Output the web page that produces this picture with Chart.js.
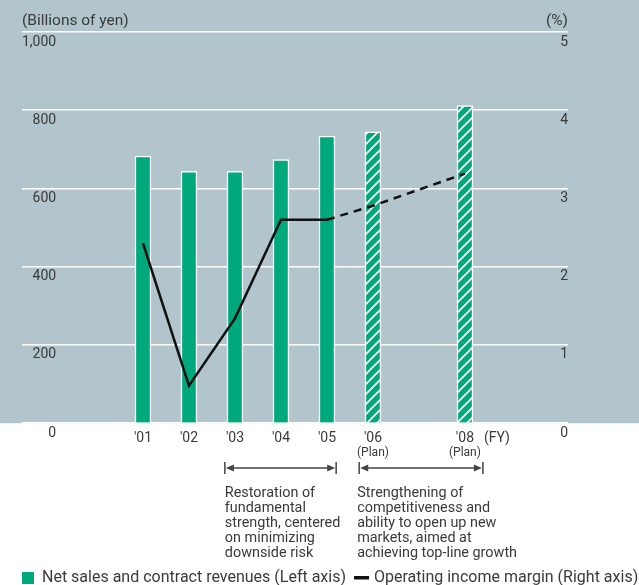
<!DOCTYPE html>
<html lang="en">
<head>
  <meta charset="UTF-8">
  <title>Net sales and operating income margin</title>
  <script src="https://cdn.jsdelivr.net/npm/chart.js"></script>
  <style>
    html, body { margin: 0; padding: 0; background: #fff; }
    canvas { display: block; }
  </style>
</head>
<body>
  <canvas id="myChart" width="639" height="585"></canvas>

  <script>
    // data
    const years = [2001, 2002, 2003, 2004, 2005, 2006, 2008];
    const yearLabels = ["'01", "'02", "'03", "'04", "'05", "'06", "'08"];
    const planYears = [2006, 2008];
    const netSales = [683, 644, 644, 674, 734, 745, 812];      // billions of yen
    const opMargin = [2.3, 0.48, 1.34, 2.6, 2.6, 2.78, 3.19];  // %
    const phaseTexts = [
      ['Restoration of', 'fundamental', 'strength, centered', 'on minimizing', 'downside risk'],
      ['Strengthening of', 'competitiveness and', 'ability to open up new', 'markets, aimed at', 'achieving top-line growth']
    ];

    const FONT = 'Roboto, "DejaVu Sans", sans-serif';
    const TEXT = '#3a3a3a';
    const GREEN = '#00a97b';

    // hatched fill for plan years
    function makeHatch() {
      const c = document.createElement('canvas');
      c.width = 10; c.height = 10;
      const g = c.getContext('2d');
      g.fillStyle = GREEN;
      g.fillRect(0, 0, 10, 10);
      g.strokeStyle = '#fff';
      g.lineWidth = 1.6;
      g.beginPath();
      g.moveTo(-5, 5); g.lineTo(5, -5);
      g.moveTo(0, 10); g.lineTo(10, 0);
      g.moveTo(5, 15); g.lineTo(15, 5);
      g.stroke();
      return g.createPattern(c, 'repeat');
    }
    const hatch = makeHatch();

    function drawSpan(ctx, x1, x2, y) {
      ctx.strokeStyle = '#444';
      ctx.fillStyle = '#444';
      ctx.lineWidth = 1.5;
      ctx.beginPath();
      ctx.moveTo(x1, y - 6); ctx.lineTo(x1, y + 6);
      ctx.moveTo(x2, y - 6); ctx.lineTo(x2, y + 6);
      ctx.moveTo(x1 + 4, y); ctx.lineTo(x2 - 4, y);
      ctx.stroke();
      ctx.beginPath();
      ctx.moveTo(x1 + 1, y); ctx.lineTo(x1 + 9, y - 3.5); ctx.lineTo(x1 + 9, y + 3.5);
      ctx.closePath(); ctx.fill();
      ctx.beginPath();
      ctx.moveTo(x2 - 1, y); ctx.lineTo(x2 - 9, y - 3.5); ctx.lineTo(x2 - 9, y + 3.5);
      ctx.closePath(); ctx.fill();
    }

    const extras = {
      id: 'extras',
      beforeDraw(chart) {
        const { ctx, chartArea, width } = chart;
        ctx.save();
        ctx.fillStyle = '#b3c5cc';
        ctx.fillRect(0, 0, width, chartArea.bottom);
        ctx.restore();
      },
      afterDraw(chart) {
        const { ctx, chartArea, scales } = chart;
        const x = scales.x;
        ctx.save();
        ctx.fillStyle = TEXT;
        ctx.textBaseline = 'middle';

        // axis titles
        ctx.font = '15.5px ' + FONT;
        ctx.textAlign = 'left';
        ctx.fillText('(Billions of yen)', chartArea.left, 21);
        ctx.textAlign = 'right';
        ctx.fillText('(%)', chartArea.right, 21);

        // (FY) and (Plan)
        ctx.font = '14px ' + FONT;
        ctx.textAlign = 'left';
        ctx.fillText('(FY)', x.getPixelForValue(2008) + 19, 438);
        ctx.font = '12px ' + FONT;
        ctx.textAlign = 'center';
        planYears.forEach(v => ctx.fillText('(Plan)', x.getPixelForValue(v), 453));

        // phase spans
        const spans = [[2002.78, 2005.2], [2005.7, 2008.39]];
        ctx.font = '14.4px ' + FONT;
        spans.forEach((s, i) => {
          const x1 = x.getPixelForValue(s[0]);
          const x2 = x.getPixelForValue(s[1]);
          drawSpan(ctx, x1, x2, 468);
          ctx.fillStyle = TEXT;
          ctx.textAlign = 'left';
          phaseTexts[i].forEach((t, j) => ctx.fillText(t, x1 - (i ? 2 : 0), 493 + j * 15));
        });

        // legend
        const ly = 578;
        ctx.font = '16px ' + FONT;
        ctx.textAlign = 'left';
        ctx.fillStyle = GREEN;
        ctx.fillRect(22, ly - 6, 12, 12);
        ctx.fillStyle = TEXT;
        const t1 = chart.data.datasets[0].label;
        ctx.fillText(t1, 42, ly);
        const x2 = 42 + ctx.measureText(t1).width + 8;
        ctx.fillStyle = '#111';
        ctx.fillRect(x2, ly - 2, 15, 3.5);
        ctx.fillStyle = TEXT;
        ctx.fillText(chart.data.datasets[1].label, x2 + 20, ly);
        ctx.restore();
      }
    };

    const ctx = document.getElementById('myChart').getContext('2d');
    const myChart = new Chart(ctx, {
      type: 'bar',
      data: {
        datasets: [
          {
            type: 'bar',
            label: 'Net sales and contract revenues (Left axis)',
            data: years.map((y, i) => ({ x: y, y: netSales[i] })),
            backgroundColor: c => (c.raw && planYears.includes(c.raw.x)) ? hatch : GREEN,
            borderColor: '#fff',
            borderWidth: 1.5,
            barThickness: 16,
            yAxisID: 'y',
            order: 1
          },
          {
            type: 'line',
            label: 'Operating income margin (Right axis)',
            data: years.map((y, i) => ({ x: y, y: opMargin[i] })),
            borderColor: '#111',
            borderWidth: 2.5,
            pointRadius: 0,
            tension: 0,
            yAxisID: 'y2',
            order: 0,
            segment: {
              borderDash: c => c.p0.parsed.x >= 2005 ? [8, 6] : undefined
            }
          }
        ]
      },
      options: {
        responsive: false,
        animation: false,
        layout: { padding: { left: 22, right: 71, top: 32, bottom: 131 } },
        plugins: { legend: { display: false }, tooltip: { enabled: false } },
        scales: {
          x: {
            type: 'linear',
            min: 1998.37,
            max: 2010.24,
            offset: false,
            grid: { display: false, drawTicks: false },
            border: { display: false },
            afterBuildTicks: s => { s.ticks = years.map(v => ({ value: v })); },
            ticks: {
              padding: 7,
              color: TEXT,
              font: { family: FONT, size: 14 },
              maxRotation: 0,
              autoSkip: false,
              callback: (v, i) => yearLabels[i]
            }
          },
          y: {
            position: 'left',
            min: 0,
            max: 1000,
            grid: { color: '#fff', lineWidth: 1.5, drawTicks: false },
            border: { display: false },
            ticks: {
              stepSize: 200,
              mirror: true,
              crossAlign: 'far',
              padding: 0,
              labelOffset: 10,
              color: TEXT,
              font: { family: FONT, size: 14 }
            }
          },
          y2: {
            position: 'right',
            min: 0,
            max: 5,
            grid: { display: false, drawTicks: false },
            border: { display: false },
            ticks: {
              stepSize: 1,
              mirror: true,
              crossAlign: 'far',
              padding: 0,
              labelOffset: 10,
              color: TEXT,
              font: { family: FONT, size: 14 }
            }
          }
        }
      },
      plugins: [extras]
    });
  </script>
</body>
</html>
